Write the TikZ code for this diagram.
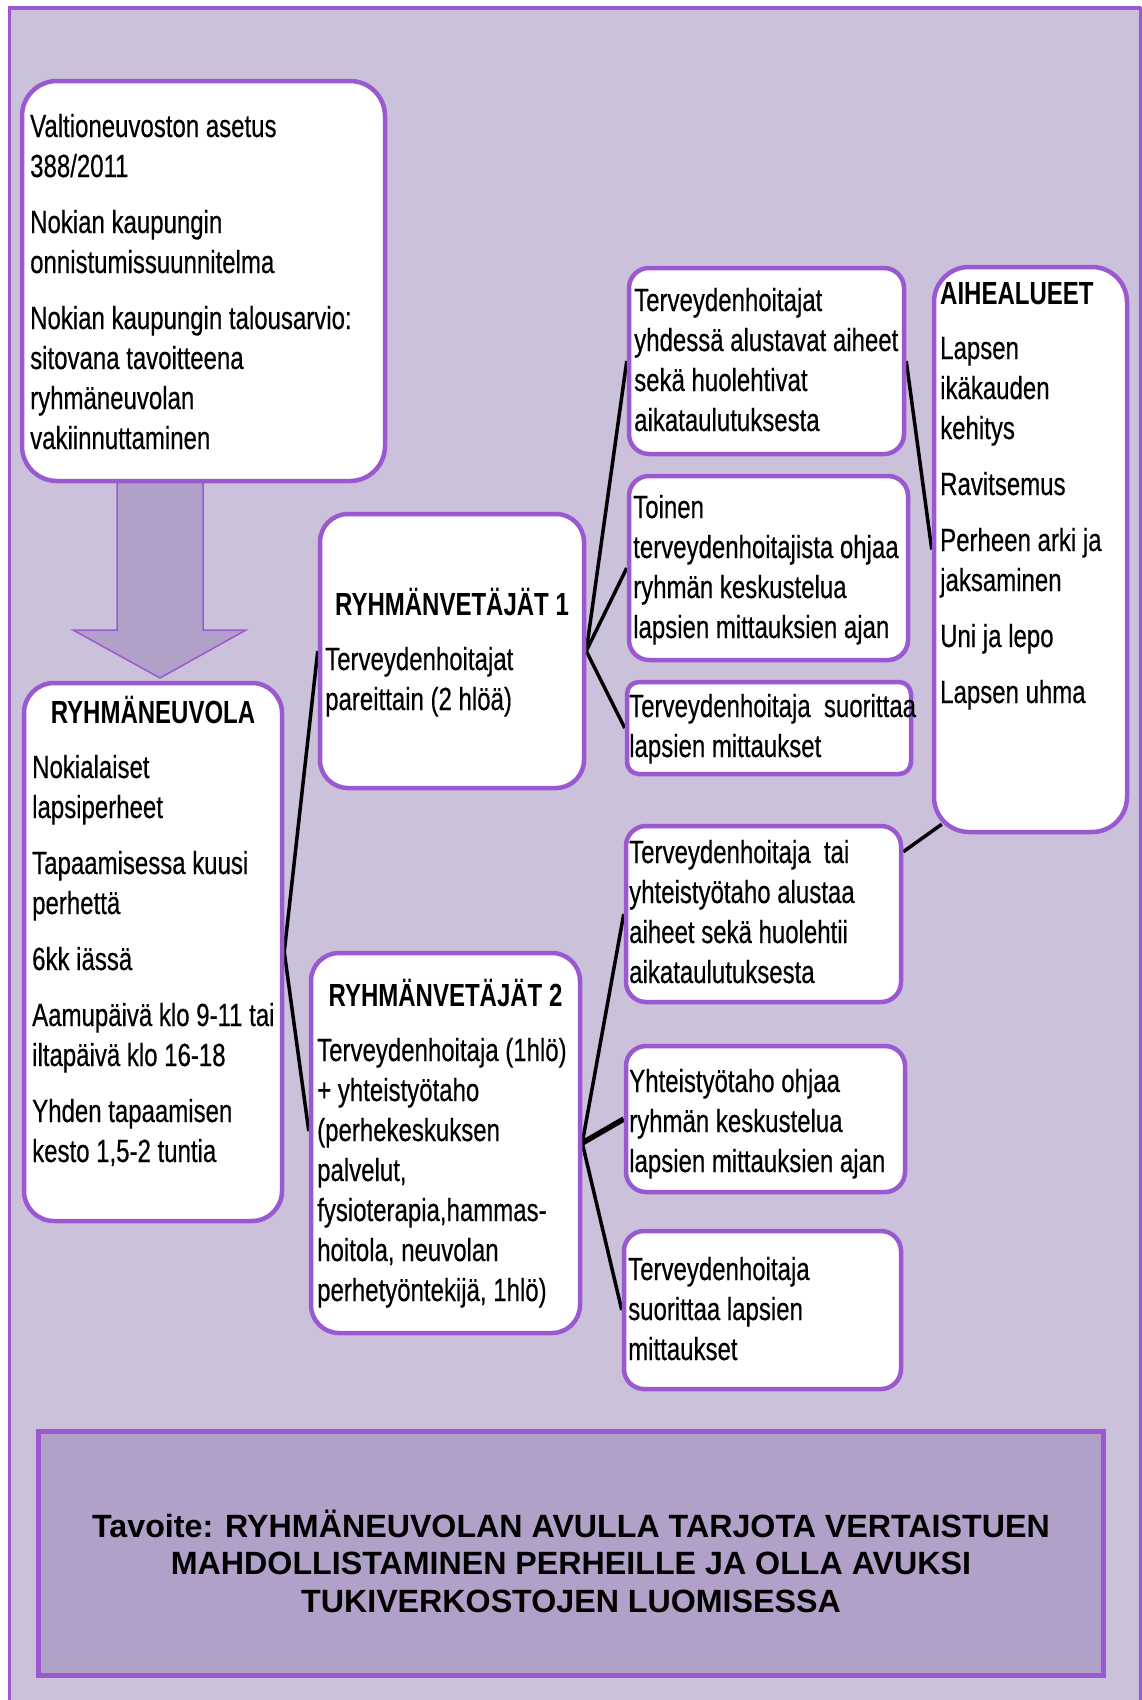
\documentclass[tikz,border=0pt]{standalone}
\usepackage{fontspec}
\setmainfont{Liberation Sans}[FakeStretch=0.75, UprightFeatures={FakeBold=0.4}]
\newfontfamily\goalfont{Liberation Sans}
\pgfdeclarelayer{back}
\pgfdeclarelayer{mid}
\pgfsetlayers{back,mid,main}
\definecolor{bgp}{RGB}{203,193,219}
\definecolor{bord}{RGB}{155,89,209}
\definecolor{fillp}{RGB}{177,160,200}
\tikzset{
  boxst/.style={draw=bord, line width=4.5pt, fill=white, inner sep=0pt},
  txt/.style={inner sep=0pt, anchor=base west, font=\fontsize{32}{40}\selectfont},
  hdr/.style={inner sep=0pt, anchor=base, font=\fontsize{32}{40}\selectfont\bfseries},
  conn/.style={draw=black, line width=3.5pt},
}
\newcommand\rbox[6]{\node[boxst, rounded corners=#6pt, minimum width={#4-#2}, minimum height={#5-#3}] (#1) at ({(#2+#4)/2},{(#3+#5)/2}) {};}
\newcommand\txtblock[4]{\node[txt] (#1) at (#2,#3) {\begin{minipage}[t]{330pt}\raggedright #4\end{minipage}};}
\begin{document}
\begin{tikzpicture}[x=1pt,y=-1pt]
\useasboundingbox (0,0) rectangle (1141,1700);
\begin{pgfonlayer}{back}
  \filldraw[fill=bgp, draw=bord, line width=3pt] (9.5,8) rectangle (1140,1720);
  \draw[bord, line width=4pt] (8,8) -- (1141,8);
\end{pgfonlayer}

% boxes
\rbox{src}{22}{81}{385}{481}{35}
\rbox{nb}{24}{683}{282}{1221}{30}
\rbox{rv1}{320}{514}{584}{788}{28}
\rbox{rv2}{311}{953}{580}{1333}{28}
\rbox{ba}{629}{268}{904}{454}{20}
\rbox{bb}{629}{476}{908}{660}{20}
\rbox{bc}{627}{682}{911}{774}{12}
\rbox{aihe}{934}{267}{1127}{832}{35}
\rbox{bd}{626}{826}{901}{1002}{20}
\rbox{be}{626}{1046}{905}{1192}{20}
\rbox{bf}{624}{1231}{901}{1389}{20}
\node[draw=bord, line width=5.3pt, fill=fillp, minimum width=1064.6pt, minimum height=243.6pt, inner sep=0pt] (goalbox) at (571,1553.5) {};
\coordinate (aiheBL) at ([xshift=10pt,yshift=10pt]aihe.south west);

% block arrow and connectors
\begin{pgfonlayer}{mid}
  \filldraw[fill=fillp, draw=bord, line width=1.5pt] (117,470) -- (203,470) -- (203,630) -- (246,630) -- (160,678) -- (73,630) -- (117,630) -- cycle;
  \draw[conn] (nb.east) -- (rv1.west);
  \draw[conn] (nb.east) -- (rv2.175.75);
  \draw[conn] (rv1.east) -- (ba.west);
  \draw[conn] (rv1.east) -- (bb.west);
  \draw[conn] (rv1.east) -- (bc.west);
  \draw[conn] (rv2.east) -- (bd.west);
  \draw[conn, line width=5.5pt] (rv2.east) -- (be.west);
  \draw[conn] (rv2.east) -- (bf.west);
  \draw[conn] (ba.east) -- (aihe.west);
  \draw[conn] (bd.24) -- (aiheBL);
\end{pgfonlayer}

% texts
\txtblock{tsrc}{30}{137}{Valtioneuvoston asetus\\ 388/2011\\[16pt] Nokian kaupungin\\ onnistumissuunnitelma\\[16pt] Nokian kaupungin talousarvio:\\ sitovana tavoitteena\\ ryhmäneuvolan\\ vakiinnuttaminen}
\node[hdr] (hnb) at (153,723) {RYHMÄNEUVOLA};
\txtblock{tnb}{32}{778}{Nokialaiset\\ lapsiperheet\\[16pt] Tapaamisessa kuusi\\ perhettä\\[16pt] 6kk iässä\\[16pt] Aamupäivä klo 9-11 tai\\ iltapäivä klo 16-18\\[16pt] Yhden tapaamisen\\ kesto 1,5-2 tuntia}
\node[hdr] (hrv1) at (452,615) {RYHMÄNVETÄJÄT 1};
\txtblock{trv1}{325}{670}{Terveydenhoitajat\\ pareittain (2 hlöä)}
\node[hdr] (hrv2) at (445.5,1006) {RYHMÄNVETÄJÄT 2};
\txtblock{trv2}{317}{1061}{Terveydenhoitaja (1hlö)\\ + yhteistyötaho\\ (perhekeskuksen\\ palvelut,\\ fysioterapia,hammas-\\ hoitola, neuvolan\\ perhetyöntekijä, 1hlö)}
\txtblock{tba}{634}{311}{Terveydenhoitajat\\ yhdessä alustavat aiheet\\ sekä huolehtivat\\ aikataulutuksesta}
\txtblock{tbb}{633}{518}{Toinen\\ terveydenhoitajista ohjaa\\ ryhmän keskustelua\\ lapsien mittauksien ajan}
\txtblock{tbc}{629}{717}{Terveydenhoitaja\ \ suorittaa\\ lapsien mittaukset}
\txtblock{taihe}{940}{304}{\textbf{AIHEALUEET}\\[15pt] Lapsen\\ ikäkauden\\ kehitys\\[16pt] Ravitsemus\\[16pt] Perheen arki ja\\ jaksaminen\\[16pt] Uni ja lepo\\[16pt] Lapsen uhma}
\txtblock{tbd}{629}{863}{Terveydenhoitaja\ \ tai\\ yhteistyötaho alustaa\\ aiheet sekä huolehtii\\ aikataulutuksesta}
\txtblock{tbe}{629}{1092}{Yhteistyötaho ohjaa\\ ryhmän keskustelua\\ lapsien mittauksien ajan}
\txtblock{tbf}{628}{1280}{Terveydenhoitaja\\ suorittaa lapsien\\ mittaukset}
\node[inner sep=0pt, anchor=base, font=\goalfont\fontsize{32.2}{37.5}\selectfont\bfseries] (goal) at (571,1537) {\begin{minipage}[t]{1060pt}\centering Tavoite: RYHMÄNEUVOLAN AVULLA TARJOTA VERTAISTUEN\\ MAHDOLLISTAMINEN PERHEILLE JA OLLA AVUKSI\\ TUKIVERKOSTOJEN LUOMISESSA\end{minipage}};
\end{tikzpicture}
\end{document}
